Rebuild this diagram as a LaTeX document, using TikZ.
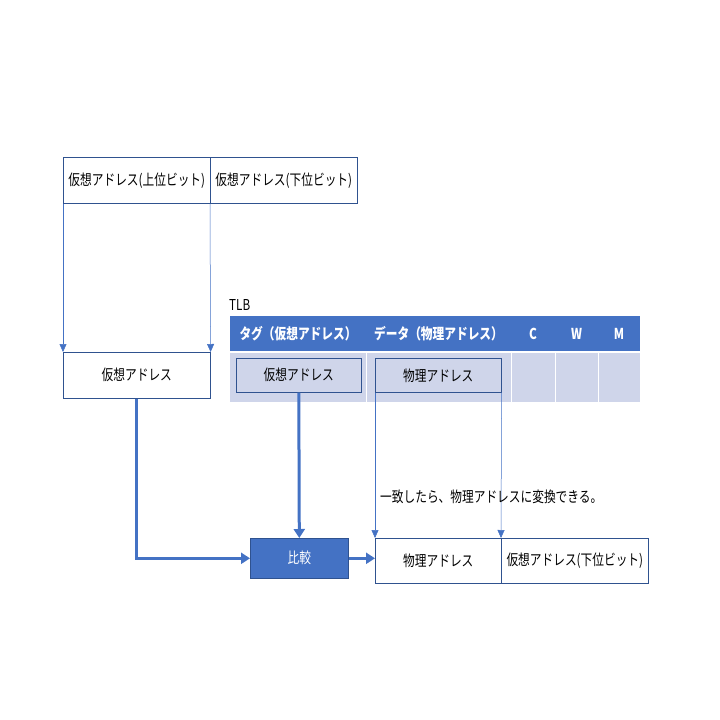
\documentclass[tikz,border=0pt]{standalone}
\usepackage{fontspec}
\setmainfont{Noto Sans CJK JP}[FakeStretch=0.78]
\usetikzlibrary{arrows.meta}
\definecolor{acc}{HTML}{4472C4}
\definecolor{lite}{HTML}{CFD5EA}
\definecolor{edge}{HTML}{2F528F}
\begin{document}
\begin{tikzpicture}[x=1pt,y=-1pt,font=\fontsize{15}{17}\selectfont,
 box/.style={draw=edge,line width=0.6pt,fill=white,minimum height=#1,inner sep=0pt},
 thin/.style={draw=acc,line width=0.5pt,-{Triangle[length=8pt,width=7pt]}},
 thick/.style={draw=acc,line width=3pt,-{Triangle[length=9pt,width=11pt]}}]
\useasboundingbox (0,0) rectangle (720,720);
% top boxes
\node[box=46pt,minimum width=147pt,anchor=north west] (vh) at (63,157) {仮想アドレス(上位ビット)};
\node[box=46pt,minimum width=147pt,anchor=north west] (vl) at (210,157) {仮想アドレス(下位ビット)};
\node[box=46pt,minimum width=147pt,anchor=north west] (va) at (63,352) {仮想アドレス};
\draw[thin] (vh.south west) -- (va.north west);
\draw[thin] (vl.south west) -- (va.north east);
% TLB
\node[anchor=south west,inner sep=0pt] (tlb) at (229,311) {TLB};
\fill[lite] (230,353) rectangle (640,402);
\foreach \a/\b/\t in {230/366/{タグ（仮想アドレス）},366/511/{データ（物理アドレス）},511/555/C,555/598/W,598/640/M}{
 \fill[acc] (\a,316) rectangle (\b,351);
 \node[text=white,font=\fontsize{15}{17}\selectfont\bfseries] at ({(\a+\b)/2},333.5) {\t};
 \draw[white,line width=0.8pt] (\b,316) -- (\b,402);
}
\node[box=34pt,minimum width=125pt,fill=lite,anchor=north west] (tv) at (236,358) {仮想アドレス};
\node[box=34pt,minimum width=126pt,fill=lite,anchor=north west] (tp) at (375,358) {物理アドレス};
% compare
\node[box=40pt,minimum width=98pt,fill=acc,text=white,anchor=north west] (cmp) at (250,538) {比較};
\node[box=45pt,minimum width=126pt,anchor=north west] (rp) at (375,538) {物理アドレス};
\node[box=45pt,minimum width=147pt,anchor=north west] (rv) at (501,538) {仮想アドレス(下位ビット)};
\draw[thick] (tv.south) -- (cmp.north);
\draw[thick] (va.south) |- (cmp.west);
\draw[thick] (cmp.east) -- (cmp.east -| rp.west);
\draw[thin] (tp.south west) -- (rp.north west);
\draw[thin] (tp.south east) -- (rv.north west);
\node[anchor=west,inner sep=0pt] (msg) at (380,497) {一致したら、物理アドレスに変換できる。};
\end{tikzpicture}
\end{document}
